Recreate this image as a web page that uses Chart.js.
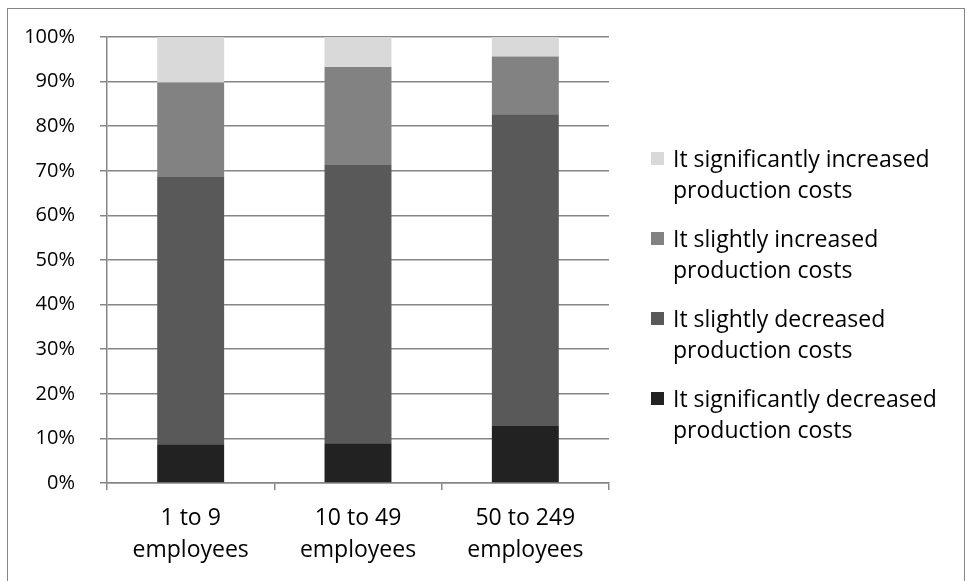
<!DOCTYPE html>
<html>
<head>
<meta charset="utf-8">
<script src="https://cdn.jsdelivr.net/npm/chart.js@4.4.1/dist/chart.umd.min.js"></script>
<style>
  html, body { margin: 0; padding: 0; background: #fff; overflow: hidden; }
  #wrap { position: relative; width: 967px; height: 581px; }
  #frame {
    position: absolute; left: 7px; top: 8px; width: 958px; height: 600px;
    border: 1px solid #868686; box-sizing: border-box;
  }
  #costChart { position: absolute; left: 0; top: 0; }
  #legend {
    position: absolute; left: 651px; top: 143px;
    font-family: "Open Sans", sans-serif; font-size: 23px; color: #000;
  }
  .item { display: flex; align-items: flex-start; margin-bottom: 18px; line-height: 31px; white-space: nowrap; }
  .box { width: 13px; height: 13px; margin-top: 9px; margin-right: 9px; flex: none; }
</style>
</head>
<body>
<div id="wrap">
  <div id="frame"></div>
  <canvas id="costChart" width="967" height="581"></canvas>
  <div id="legend"></div>
</div>
<script>
// categories (firm size)
const categories = [["1 to 9", "employees"], ["10 to 49", "employees"], ["50 to 249", "employees"]];

// series values, % of firms (stacked bottom to top)
const sigDecreased = [8.7, 8.9, 12.8];
const slightDecreased = [59.9, 62.4, 69.9];
const slightIncreased = [21.2, 22.0, 12.9];
const sigIncreased = [10.2, 6.7, 4.4];

const seriesNames = [
  ["It significantly decreased", "production costs"],
  ["It slightly decreased", "production costs"],
  ["It slightly increased", "production costs"],
  ["It significantly increased", "production costs"],
];
const seriesColors = ["#222222", "#595959", "#828282", "#d9d9d9"];

const yTicks = [0, 10, 20, 30, 40, 50, 60, 70, 80, 90, 100];

const gridColor = "#868686";
const fontFamily = "'Open Sans', sans-serif";

const seriesValues = [sigDecreased, slightDecreased, slightIncreased, sigIncreased];

const ctx = document.getElementById("costChart").getContext("2d");
const costChart = new Chart(ctx, {
  type: "bar",
  data: {
    labels: categories,
    datasets: seriesValues.map(function (vals, i) {
      return {
        label: seriesNames[i].join(" "),
        data: vals,
        backgroundColor: seriesColors[i],
        borderWidth: 0,
        barPercentage: 0.4,
        categoryPercentage: 1.0,
      };
    }),
  },
  options: {
    responsive: false,
    animation: false,
    layout: { padding: { left: 0, right: 358, top: 36, bottom: 0 } },
    plugins: {
      legend: { display: false },
      tooltip: { enabled: false },
    },
    scales: {
      x: {
        stacked: true,
        offset: true,
        grid: {
          offset: true,
          drawOnChartArea: false,
          drawTicks: true,
          tickLength: 7,
          color: gridColor,
          lineWidth: 1.5,
        },
        border: { display: true, color: gridColor, width: 1.5 },
        ticks: {
          color: "#000",
          padding: 12,
          maxRotation: 0,
          font: { family: fontFamily, size: 23, lineHeight: 1.39 },
        },
        afterFit: function (scale) { scale.height = 98; },
      },
      y: {
        stacked: true,
        min: 0,
        max: 100,
        afterBuildTicks: function (scale) {
          scale.ticks = yTicks.map(function (v) { return { value: v }; });
        },
        grid: {
          drawTicks: true,
          tickLength: 7,
          color: gridColor,
          lineWidth: 1.5,
        },
        border: { display: true, color: gridColor, width: 1.5 },
        ticks: {
          color: "#000",
          padding: 25,
          font: { family: fontFamily, size: 20 },
          callback: function (v) { return v + "%"; },
        },
        afterFit: function (scale) { scale.width = 107; },
      },
    },
  },
});

// legend, top item = top of stack
const legendEl = document.getElementById("legend");
costChart.data.datasets.slice().reverse().forEach(function (ds, k) {
  const idx = costChart.data.datasets.length - 1 - k;
  const item = document.createElement("div");
  item.className = "item";
  const box = document.createElement("div");
  box.className = "box";
  box.style.background = ds.backgroundColor;
  const txt = document.createElement("div");
  txt.innerHTML = seriesNames[idx].join("<br>");
  item.appendChild(box);
  item.appendChild(txt);
  legendEl.appendChild(item);
});
</script>
</body>
</html>
